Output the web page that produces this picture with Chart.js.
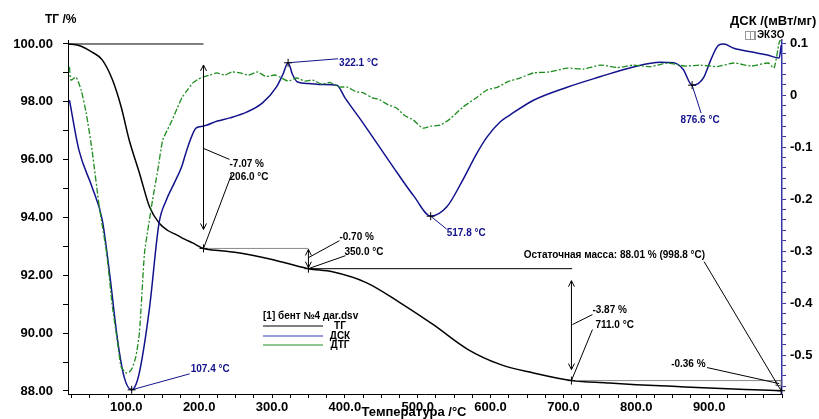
<!DOCTYPE html>
<html>
<head>
<meta charset="utf-8">
<script src="https://cdn.jsdelivr.net/npm/chart.js@4/dist/chart.umd.min.js"></script>
<style>
  body { margin: 0; background: #fff; }
  #wrap { width: 819px; height: 419px; }
</style>
</head>
<body>
<div id="wrap"><canvas id="tgChart" width="819" height="419"></canvas></div>
<script>
// ТГ (black), °C -> %
const tgTemps = [20, 35, 53, 67, 81, 93, 104, 118, 132, 145, 157, 169, 180, 191, 206, 230, 256, 300, 350, 383, 430, 476, 521, 568, 613, 659, 711, 760, 800, 850, 900, 950, 999];
const tgValues = [100.0, 99.95, 99.72, 99.45, 98.76, 97.82, 96.68, 95.54, 94.36, 93.81, 93.55, 93.40, 93.25, 93.12, 92.93, 92.85, 92.77, 92.55, 92.23, 92.12, 91.74, 91.05, 90.30, 89.45, 88.92, 88.62, 88.36, 88.28, 88.22, 88.16, 88.10, 88.05, 88.01];

// ДСК (blue), мВт/мг
const dscTemps = [22, 35, 53, 67, 77, 88, 97, 107.4, 115, 122, 132, 145, 155, 166, 176, 183, 196, 205, 225, 242, 265, 287, 306, 315, 322.1, 328, 335, 350, 370, 389, 400, 425, 450, 472, 495, 517.8, 540, 562, 580, 595, 613, 627, 659, 705, 750, 796, 833, 851, 864, 876.6, 885, 893, 903, 913, 920, 934, 957, 980, 996, 999];
const dscValues = [-0.01, -0.106, -0.177, -0.24, -0.342, -0.471, -0.542, -0.567, -0.55, -0.504, -0.408, -0.246, -0.202, -0.169, -0.138, -0.106, -0.063, -0.06, -0.05, -0.044, -0.033, -0.015, 0.015, 0.04, 0.062, 0.04, 0.025, 0.022, 0.02, 0.019, -0.005, -0.054, -0.105, -0.15, -0.195, -0.233, -0.215, -0.163, -0.115, -0.081, -0.052, -0.038, -0.01, 0.015, 0.035, 0.054, 0.063, 0.062, 0.05, 0.019, 0.022, 0.035, 0.07, 0.096, 0.098, 0.09, 0.083, 0.077, 0.071, 0.096];

// ДТГ (green), %/мин, no scale shown
const dtgTemps = [22, 24, 31, 38, 45, 53, 63, 73, 81, 88, 93, 100, 104, 108, 113, 118, 125, 130, 136, 143, 150, 157, 163, 170, 177, 184, 191, 198, 205, 215, 224, 235, 245, 256, 268, 280, 292, 304, 311, 322, 334, 345, 356, 368, 380, 392, 403, 415, 426, 437, 448, 460, 471, 482, 494, 507, 519, 531, 545, 562, 578, 595, 610, 623, 640, 659, 680, 705, 728, 751, 774, 796, 820, 843, 866, 888, 911, 934, 958, 981, 989, 996, 999];
const dtgValues = [-0.013, -0.057, -0.047, -0.09, -0.167, -0.29, -0.48, -0.633, -0.813, -0.93, -1.013, -1.033, -1.03, -1.017, -0.98, -0.9, -0.633, -0.55, -0.457, -0.36, -0.257, -0.22, -0.19, -0.15, -0.113, -0.09, -0.067, -0.055, -0.047, -0.04, -0.033, -0.04, -0.03, -0.033, -0.04, -0.03, -0.045, -0.04, -0.047, -0.06, -0.05, -0.06, -0.057, -0.07, -0.065, -0.08, -0.08, -0.095, -0.1, -0.115, -0.123, -0.14, -0.15, -0.175, -0.19, -0.217, -0.21, -0.207, -0.185, -0.147, -0.12, -0.09, -0.08, -0.063, -0.05, -0.033, -0.03, -0.017, -0.02, -0.007, -0.015, -0.007, -0.012, 0, -0.01, -0.007, -0.012, 0, -0.01, 0, -0.017, 0.067, 0.083];

// marked steps on ТГ and peaks on ДСК
const tgSteps = [[206.0, 92.93], [350.0, 92.23], [711.0, 88.36], [998.8, 88.01]];
const tgLosses = ['-7.07 %', '-0.70 %', '-3.87 %', '-0.36 %'];
const dscPeaks = [[107.4, -0.567], [322.1, 0.062], [517.8, -0.233], [876.6, 0.019]];

const xTicks = [];
for (let t = 25; t <= 1000; t += 25) xTicks.push(t);
const tgTicks = [];
for (let v = 88; v <= 100; v += 1) tgTicks.push(v);
const dscTicks = [];
for (let i = -28; i <= 5; i++) dscTicks.push(i / 50);

const FONT = 'Arial, "Liberation Sans", sans-serif';
const SMALL = 'bold 10px ' + FONT;
const BLUE = '#12128c';
const GREEN = '#1e8c1e';

const toPoints = (xs, ys) => xs.map((t, i) => ({ x: t, y: ys[i] }));

function drawText(ctx, s, x, y, opts) {
    ctx.save();
    ctx.font = (opts && opts.font) || SMALL;
    ctx.fillStyle = (opts && opts.color) || '#000';
    ctx.textAlign = (opts && opts.align) || 'left';
    ctx.textBaseline = 'middle';
    ctx.fillText(s, x, y);
    ctx.restore();
}

function line(ctx, x1, y1, x2, y2, color, w) {
    ctx.save();
    ctx.strokeStyle = color || '#000';
    ctx.lineWidth = w || 1;
    ctx.beginPath();
    ctx.moveTo(x1, y1);
    ctx.lineTo(x2, y2);
    ctx.stroke();
    ctx.restore();
}

function cross(ctx, x, y) {
    line(ctx, x - 4, y, x + 4, y);
    line(ctx, x, y - 4, x, y + 4);
}

function dblArrow(ctx, x, y1, y2) {
    line(ctx, x, y1, x, y2);
    line(ctx, x - 3, y1 + 6, x, y1);
    line(ctx, x + 3, y1 + 6, x, y1);
    line(ctx, x - 3, y2 - 6, x, y2);
    line(ctx, x + 3, y2 - 6, x, y2);
}

const annotations = {
    id: 'annotations',
    afterDatasetsDraw(chart) {
        const ctx = chart.ctx;
        const { x, y, y2 } = chart.scales;
        const X = t => x.getPixelForValue(t);
        const Y = v => y.getPixelForValue(v);
        const Y2 = v => y2.getPixelForValue(v);
        const p = tgSteps.map(s => ({ x: X(s[0]), y: Y(s[1]) }));

        // step 1
        line(ctx, X(20), Y(100), X(tgSteps[0][0]), Y(100));
        dblArrow(ctx, p[0].x, Y(100) + 21, p[0].y - 19);
        line(ctx, p[0].x, p[0].y - 100, p[0].x + 26, p[0].y - 89);
        drawText(ctx, tgLosses[0], p[0].x + 26, p[0].y - 84);
        line(ctx, p[0].x, p[0].y, p[0].x + 28, p[0].y - 74);
        drawText(ctx, tgSteps[0][0].toFixed(1) + ' °C', p[0].x + 26, p[0].y - 71);
        line(ctx, p[0].x, p[0].y, p[1].x, p[0].y, '#888');
        cross(ctx, p[0].x, p[0].y);

        // step 2
        dblArrow(ctx, p[1].x, p[0].y + 1, p[1].y - 1);
        line(ctx, p[1].x, p[1].y - 11, p[1].x + 31, p[1].y - 28);
        drawText(ctx, tgLosses[1], p[1].x + 31, p[1].y - 31);
        line(ctx, p[1].x, p[1].y, p[1].x + 37, p[1].y - 13);
        drawText(ctx, tgSteps[1][0].toFixed(1) + ' °C', p[1].x + 36, p[1].y - 16);
        line(ctx, p[1].x, p[1].y, X(712), p[1].y);
        cross(ctx, p[1].x, p[1].y);

        // step 3
        dblArrow(ctx, p[2].x, p[1].y + 12, p[2].y - 11);
        line(ctx, p[2].x + 1, p[2].y - 56, p[2].x + 21, p[2].y - 66);
        drawText(ctx, tgLosses[2], p[2].x + 21, p[2].y - 70);
        line(ctx, p[2].x, p[2].y, p[2].x + 21, p[2].y - 51);
        drawText(ctx, tgSteps[2][0].toFixed(1) + ' °C', p[2].x + 24, p[2].y - 55);
        line(ctx, p[2].x, p[2].y, p[3].x, p[2].y, '#888');
        cross(ctx, p[2].x, p[2].y);

        // residual mass
        ctx.save();
        ctx.strokeStyle = '#666';
        ctx.strokeRect(p[3].x - 5, p[2].y, 5, 5);
        ctx.restore();
        line(ctx, p[3].x - 74, p[2].y - 13, p[3].x - 2, p[2].y + 3);
        drawText(ctx, tgLosses[3], p[3].x - 110, p[2].y - 16);
        line(ctx, p[3].x, p[3].y, p[3].x - 77, p[3].y - 129);
        drawText(ctx, 'Остаточная масса: ' + tgSteps[3][1].toFixed(2) + ' % (' + tgSteps[3][0].toFixed(1) + ' °C)', p[3].x - 76, p[3].y - 135, { align: 'right' });
        cross(ctx, p[3].x, p[3].y);

        // DSC peaks
        const q = dscPeaks.map(s => ({ x: X(s[0]), y: Y2(s[1]) }));
        const lab = s => s[0].toFixed(1) + ' °C';
        line(ctx, q[0].x, q[0].y, q[0].x + 58, q[0].y - 16, BLUE);
        drawText(ctx, lab(dscPeaks[0]), q[0].x + 59, q[0].y - 21, { color: BLUE });
        line(ctx, q[1].x, q[1].y, q[1].x + 50, q[1].y - 4, BLUE);
        drawText(ctx, lab(dscPeaks[1]), q[1].x + 51, q[1].y, { color: BLUE });
        line(ctx, q[2].x, q[2].y, q[2].x + 16, q[2].y + 13, BLUE);
        drawText(ctx, lab(dscPeaks[2]), q[2].x + 16, q[2].y + 17, { color: BLUE });
        line(ctx, q[3].x, q[3].y, q[3].x + 9, q[3].y + 28, BLUE);
        drawText(ctx, lab(dscPeaks[3]), q[3].x + 8, q[3].y + 35, { color: BLUE, align: 'center' });
        q.forEach(o => cross(ctx, o.x, o.y));

        // legend box
        drawText(ctx, '[1] бент №4 даr.dsv', 263, 316);
        line(ctx, 263, 326, 323, 326, '#000');
        line(ctx, 263, 336, 323, 336, '#9a9ae0', 2);
        line(ctx, 263, 345, 323, 345, GREEN);
        drawText(ctx, 'ТГ', 340, 326, { align: 'center' });
        drawText(ctx, 'ДСК', 340, 336, { align: 'center' });
        drawText(ctx, 'ДТГ', 340, 345, { align: 'center' });
    },
    afterDraw(chart) {
        const ctx = chart.ctx;
        drawText(ctx, 'ТГ /%', 45, 20, { font: 'bold 12px ' + FONT });
        drawText(ctx, 'ДСК /(мВт/мг)', 730, 21, { font: 'bold 13px ' + FONT });
        ctx.save();
        ctx.strokeStyle = '#999';
        ctx.strokeRect(745.5, 31.5, 9, 8);
        ctx.strokeRect(750.5, 31.5, 5, 8);
        ctx.restore();
        drawText(ctx, 'ЭКЗО', 757, 35, { font: 'bold 10px ' + FONT });
        drawText(ctx, 'Температура /°C', 414, 412, { font: 'bold 13px ' + FONT, align: 'center' });
    }
};

const tickFont = { family: FONT, size: 13, weight: 'bold' };

new Chart(document.getElementById('tgChart').getContext('2d'), {
    type: 'line',
    data: {
        datasets: [
            {
                label: 'ДТГ',
                data: toPoints(dtgTemps, dtgValues),
                yAxisID: 'y3',
                borderColor: GREEN,
                borderWidth: 1.3,
                borderDash: [6, 2, 2, 2],
                pointRadius: 0,
                tension: 0.2
            },
            {
                label: 'ДСК',
                data: toPoints(dscTemps, dscValues),
                yAxisID: 'y2',
                borderColor: BLUE,
                borderWidth: 1.5,
                pointRadius: 0,
                cubicInterpolationMode: 'monotone'
            },
            {
                label: 'ТГ',
                data: toPoints(tgTemps, tgValues),
                yAxisID: 'y',
                borderColor: '#000',
                borderWidth: 1.5,
                pointRadius: 0,
                cubicInterpolationMode: 'monotone'
            }
        ]
    },
    options: {
        responsive: false,
        animation: false,
        layout: { padding: { top: 40 } },
        plugins: { legend: { display: false }, tooltip: { enabled: false } },
        scales: {
            x: {
                type: 'linear',
                min: 20,
                max: 1000,
                afterBuildTicks: s => { s.ticks = xTicks.map(v => ({ value: v })); },
                afterFit: s => { s.height = 25; },
                border: { color: '#000', width: 1 },
                grid: { drawOnChartArea: false, tickLength: 4, color: '#000' },
                ticks: {
                    autoSkip: false,
                    maxRotation: 0,
                    padding: 2,
                    color: '#000',
                    font: tickFont,
                    callback: v => (v % 100 === 0 && v >= 100 && v <= 900) ? v.toFixed(1) : ''
                }
            },
            y: {
                position: 'left',
                min: 87.896,
                max: 100.138,
                afterBuildTicks: s => { s.ticks = tgTicks.map(v => ({ value: v })); },
                afterFit: s => { s.width = 68; },
                border: { color: '#000', width: 1 },
                grid: { drawOnChartArea: false, tickLength: 5, color: '#000' },
                ticks: {
                    autoSkip: false,
                    padding: 10,
                    color: '#000',
                    font: tickFont,
                    callback: v => (v % 2 === 0) ? v.toFixed(2) : ''
                }
            },
            y2: {
                position: 'right',
                min: -0.575,
                max: 0.1058,
                afterBuildTicks: s => { s.ticks = dscTicks.map(v => ({ value: v })); },
                afterFit: s => { s.width = 37; },
                border: { color: '#3434a8', width: 1.5 },
                grid: { drawOnChartArea: false, tickLength: 4, color: '#3434a8' },
                ticks: {
                    autoSkip: false,
                    padding: 4,
                    color: '#000',
                    font: tickFont,
                    callback: v => {
                        const k = Math.round(v * 10);
                        return Math.abs(v * 10 - k) < 1e-6 ? String(k / 10) : '';
                    }
                }
            },
            y3: {
                display: false,
                min: -1.103,
                max: 0.0767
            }
        }
    },
    plugins: [annotations]
});
</script>
</body>
</html>
